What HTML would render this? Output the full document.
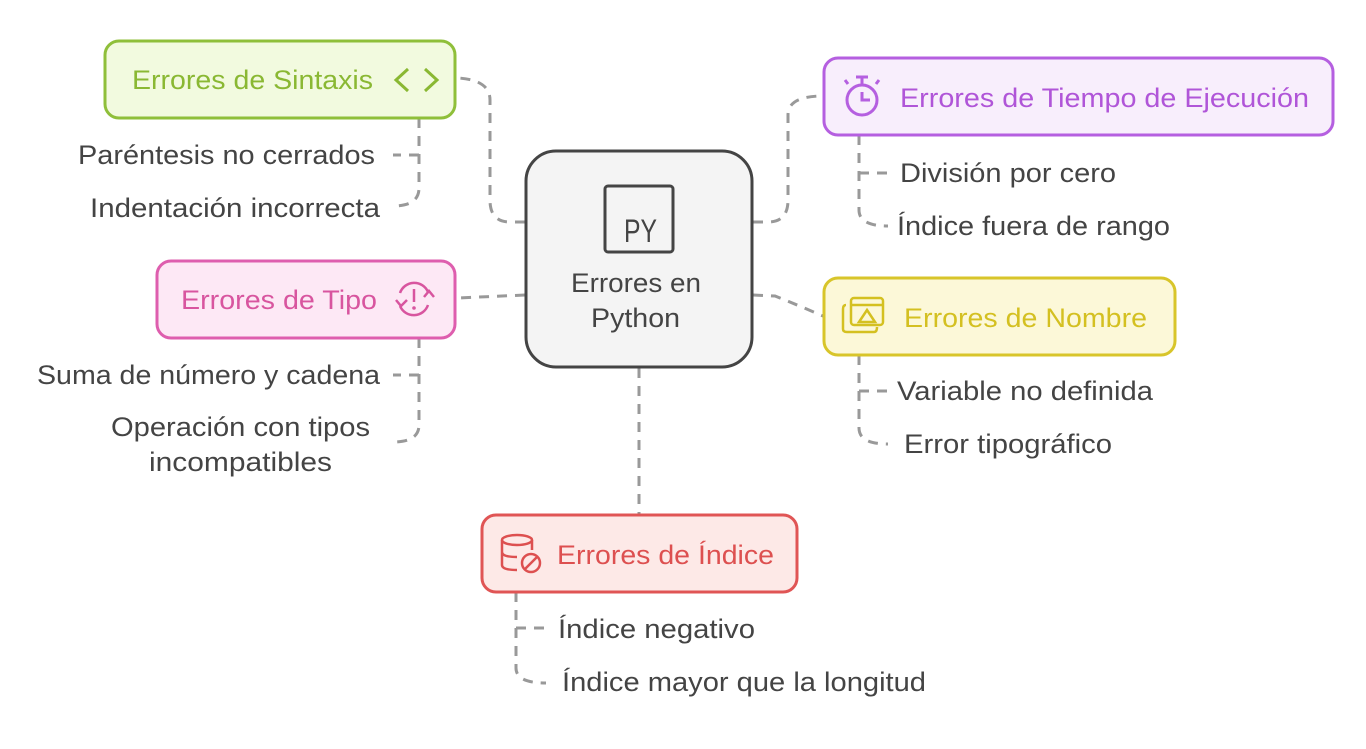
<!DOCTYPE html>
<html><head><meta charset="utf-8"><style>
html,body{margin:0;padding:0;background:#fff;}
svg{display:block;}
text{font-family:"Liberation Sans",sans-serif;font-size:27px;}
.leaf{fill:#444;}
.c{fill:none;stroke:#999;stroke-width:3;stroke-dasharray:10 8;}
</style></head><body>
<svg width="1366" height="749" viewBox="0 0 1366 749" xmlns="http://www.w3.org/2000/svg">
<path class="c" d="M525 222 L510 222 Q490 222 490 200 L490 100 Q490 80 458 78"/>
<path class="c" d="M525 295 L458 298"/>
<path class="c" d="M753 222 L768 222 Q788 222 788 200 L788 115 Q788 96 823 96"/>
<path class="c" d="M753 295 L775 296 Q800 306 823 316"/>
<path class="c" d="M639 368 L639 514"/>
<path class="c" d="M419 118 L419 188 Q419 206 393 206"/>
<path class="c" d="M419 155 L393 155"/>
<path class="c" d="M419 338 L419 425 Q419 442 393 442"/>
<path class="c" d="M419 375 L393 375"/>
<path class="c" d="M859 135 L859 210 Q859 226 888 226"/>
<path class="c" d="M859 173 L888 173"/>
<path class="c" d="M859 355 L859 428 Q859 444 888 444"/>
<path class="c" d="M859 391 L888 391"/>
<path class="c" d="M516 592 L516 668 Q516 683 546 683"/>
<path class="c" d="M516 628 L546 628"/>

<rect x="526" y="151" width="226" height="216" rx="30" fill="#f4f4f4" stroke="#444" stroke-width="3"/>
<rect x="605" y="186" width="68" height="66" rx="3" fill="none" stroke="#444" stroke-width="3"/>
<text x="624" y="242" style="font-size:32px" textLength="33" lengthAdjust="spacingAndGlyphs" fill="#444">PY</text>
<text x="571" y="292" textLength="130" lengthAdjust="spacingAndGlyphs" fill="#444">Errores en</text>
<text x="591" y="327" textLength="89" lengthAdjust="spacingAndGlyphs" fill="#444">Python</text>

<rect x="105" y="41" width="350" height="77" rx="14" fill="#f2fadf" stroke="#8fbf3a" stroke-width="3"/>
<text x="132" y="89" textLength="241" lengthAdjust="spacingAndGlyphs" fill="#8ab833">Errores de Sintaxis</text>
<path d="M408 69 L396 80 L408 91 M425 69 L437 80 L425 91" fill="none" stroke="#8ab833" stroke-width="3"/>
<text class="leaf" x="78" y="164" textLength="297" lengthAdjust="spacingAndGlyphs">Paréntesis no cerrados</text>
<text class="leaf" x="90" y="217" textLength="290" lengthAdjust="spacingAndGlyphs">Indentación incorrecta</text>

<rect x="157" y="261" width="298" height="77" rx="14" fill="#fde8f5" stroke="#de5eae" stroke-width="3"/>
<text x="181" y="309" textLength="196" lengthAdjust="spacingAndGlyphs" fill="#d8559f">Errores de Tipo</text>
<g fill="none" stroke="#d8559f" stroke-width="2.5">
<path d="M400 293 A15 15 0 0 1 428 292"/>
<path d="M428 305 A15 15 0 0 1 400 306"/>
<path d="M396 300 L401 306 L407 300 M424 297 L429 291 L434 297"/>
<path d="M414 289 L414 302"/>
</g>
<circle cx="414" cy="308" r="1.8" fill="#d8559f"/>
<text class="leaf" x="37" y="384" textLength="343" lengthAdjust="spacingAndGlyphs">Suma de número y cadena</text>
<text class="leaf" x="111" y="436" textLength="259" lengthAdjust="spacingAndGlyphs">Operación con tipos</text>
<text class="leaf" x="149" y="471" textLength="183" lengthAdjust="spacingAndGlyphs">incompatibles</text>

<rect x="824" y="58" width="509" height="77" rx="14" fill="#f8eefc" stroke="#b55fe0" stroke-width="3"/>
<circle cx="862" cy="100" r="15" fill="none" stroke="#b55fe0" stroke-width="3"/>
<path d="M856 77 L868 77 M862 77 L862 85 M848 84 L845 80 M876 84 L879 80 M862 92 L862 100 L870 100" fill="none" stroke="#b55fe0" stroke-width="3"/>
<text x="900" y="107" textLength="409" lengthAdjust="spacingAndGlyphs" fill="#b055d8">Errores de Tiempo de Ejecución</text>
<text class="leaf" x="900" y="182" textLength="216" lengthAdjust="spacingAndGlyphs">División por cero</text>
<text class="leaf" x="897" y="235" textLength="273" lengthAdjust="spacingAndGlyphs">Índice fuera de rango</text>

<rect x="824" y="278" width="351" height="77" rx="14" fill="#fcf8d8" stroke="#d8c52a" stroke-width="3"/>
<g fill="none" stroke="#d4c021" stroke-width="2.5">
<rect x="851" y="298" width="32" height="27" rx="3"/>
<path d="M851 305 L883 305"/>
<path d="M846 305 Q843 305 843 309 L843 329 Q843 332 847 332 L874 332 Q877 332 877 327"/>
<path d="M867 310 L875 322 L859 322 Z"/>
</g>
<text x="904" y="327" textLength="243" lengthAdjust="spacingAndGlyphs" fill="#d4c021">Errores de Nombre</text>
<text class="leaf" x="897" y="400" textLength="256" lengthAdjust="spacingAndGlyphs">Variable no definida</text>
<text class="leaf" x="904" y="453" textLength="208" lengthAdjust="spacingAndGlyphs">Error tipográfico</text>

<rect x="482" y="515" width="315" height="77" rx="14" fill="#fde9e7" stroke="#e05555" stroke-width="3"/>
<g fill="none" stroke="#dd5050" stroke-width="2.5">
<ellipse cx="517" cy="540" rx="15" ry="5"/>
<path d="M502 540 L502 565 Q502 570 517 570 M502 552 Q502 557 517 557 M532 540 L532 550"/>
<circle cx="531" cy="563" r="9"/>
<path d="M525 569 L537 557"/>
</g>
<text x="557" y="564" textLength="217" lengthAdjust="spacingAndGlyphs" fill="#dd5050">Errores de Índice</text>
<text class="leaf" x="558" y="638" textLength="197" lengthAdjust="spacingAndGlyphs">Índice negativo</text>
<text class="leaf" x="562" y="691" textLength="364" lengthAdjust="spacingAndGlyphs">Índice mayor que la longitud</text>
</svg>
</body></html>
